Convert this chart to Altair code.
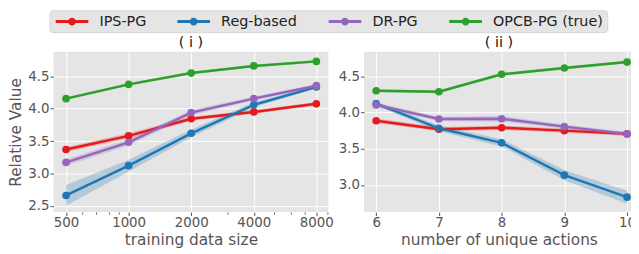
import altair as alt
import pandas as pd

methods = ["IPS-PG", "Reg-based", "DR-PG", "OPCB-PG (true)"]
colors = ["#e41a1c", "#1f77b4", "#9467bd", "#2ca02c"]

# Panel (i): training data size
sizes = [500, 1000, 2000, 4000, 8000]
i_ips = [3.37, 3.58, 3.845, 3.95, 4.075]
i_reg = [2.66, 3.12, 3.62, 4.06, 4.335]
i_dr = [3.17, 3.48, 3.94, 4.155, 4.355]
i_opcb = [4.155, 4.375, 4.55, 4.66, 4.73]
i_ips_ci = [0.04, 0.04, 0.03, 0.03, 0.03]
i_reg_ci = [0.16, 0.09, 0.06, 0.04, 0.02]
i_dr_ci = [0.05, 0.05, 0.04, 0.03, 0.02]
i_opcb_ci = [0.02, 0.02, 0.02, 0.02, 0.02]

# Panel (ii): number of unique actions
actions = [6, 7, 8, 9, 10]
ii_ips = [3.886, 3.77, 3.79, 3.75, 3.705]
ii_reg = [4.123, 3.782, 3.582, 3.136, 2.832]
ii_dr = [4.105, 3.91, 3.914, 3.805, 3.705]
ii_opcb = [4.30, 4.286, 4.527, 4.614, 4.695]
ii_ips_ci = [0.03, 0.03, 0.03, 0.03, 0.03]
ii_reg_ci = [0.03, 0.04, 0.05, 0.07, 0.09]
ii_dr_ci = [0.03, 0.03, 0.04, 0.03, 0.03]
ii_opcb_ci = [0.02, 0.02, 0.02, 0.02, 0.02]

minor_ticks = [600, 700, 800, 900, 3000, 5000, 6000, 7000, 9000]


def build(xs, series, cis):
    rows = []
    for m, vals, ci in zip(methods, series, cis):
        for x, v, c in zip(xs, vals, ci):
            rows.append({"x": x, "method": m, "value": v, "lo": v - c, "hi": v + c})
    return pd.DataFrame(rows)


df1 = build(sizes, [i_ips, i_reg, i_dr, i_opcb], [i_ips_ci, i_reg_ci, i_dr_ci, i_opcb_ci])
df2 = build(actions, [ii_ips, ii_reg, ii_dr, ii_opcb], [ii_ips_ci, ii_reg_ci, ii_dr_ci, ii_opcb_ci])

FONT = "DejaVu Sans"
GREY = "#555555"

legend_path = "M-1,-0.3H5.6V0.3H-1Z M3.1,0A0.8,0.8 0 1,1 1.5,0A0.8,0.8 0 1,1 3.1,0Z"

color = alt.Color(
    "method:N",
    scale=alt.Scale(domain=methods, range=colors),
    legend=alt.Legend(
        title=None,
        orient="none",
        direction="horizontal",
        columns=4,
        legendX=-4,
        legendY=-42,
        symbolType=legend_path,
        symbolSize=100,
        symbolStrokeWidth=0,
        symbolOpacity=1,
        labelOffset=32,
        columnPadding=29,
        labelFontSize=14.5,
        labelFont=FONT,
        labelColor="#222222",
        fillColor="#E5E5E5",
        strokeColor="#d6d6d6",
        cornerRadius=3,
        padding=4,
    ),
)


def panel(df, xscale, xaxis, ydomain, yvals, xtitle, ytitle, title, width):
    x = alt.X("x:Q", scale=xscale, axis=xaxis, title=xtitle)
    yscale = alt.Scale(domain=ydomain, nice=False, zero=False)
    yaxis = alt.Axis(values=yvals, format=".1f", title=ytitle)
    base = alt.Chart(df)
    band = base.mark_area(opacity=0.25).encode(
        x=x, y=alt.Y("lo:Q", scale=yscale, axis=yaxis), y2="hi:Q", color=color,
    )
    line = base.mark_line(strokeWidth=2.5).encode(
        x=x, y=alt.Y("value:Q", scale=yscale, axis=yaxis), color=color,
    )
    pts = base.mark_point(filled=True, size=60, opacity=1, strokeWidth=0).encode(
        x=x, y=alt.Y("value:Q", scale=yscale, axis=yaxis), color=color,
    )
    return alt.layer(band, line, pts).properties(
        width=width, height=162,
        title=alt.TitleParams(title, fontSize=14.5, font=FONT, fontWeight="normal", color="#111111", offset=1),
    )


all_ticks = sizes + minor_ticks
xaxis1 = alt.Axis(
    values=all_ticks,
    labelExpr="indexof([500,1000,2000,4000,8000], datum.value) >= 0 ? format(datum.value, 'd') : ''",
    tickSize=alt.expr("indexof([500,1000,2000,4000,8000], datum.value) >= 0 ? 3.5 : 2"),
    gridOpacity=alt.expr("indexof([500,1000,2000,4000,8000], datum.value) >= 0 ? 1 : 0"),
)
p1 = panel(
    df1,
    alt.Scale(type="log", base=2, domain=[435, 9142], nice=False),
    xaxis1,
    [2.404, 4.877],
    [2.5, 3.0, 3.5, 4.0, 4.5],
    "training data size",
    "Relative Value",
    "( i )",
    278,
)
p2 = panel(
    df2,
    alt.Scale(domain=[5.806, 10.11], nice=False, zero=False),
    alt.Axis(values=actions, format="d"),
    [2.627, 4.836],
    [3.0, 3.5, 4.0, 4.5],
    "number of unique actions",
    None,
    "( ii )",
    273,
)

chart = (
    alt.hconcat(p1, p2, spacing=5)
    .resolve_scale(y="independent", x="independent", color="shared")
    .properties(padding={"left": 1, "top": 0, "right": -5, "bottom": 0})
    .configure(font=FONT)
    .configure_view(fill="#E5E5E5", stroke=None)
    .configure_axis(
        grid=True,
        gridColor="white",
        gridWidth=1,
        domain=False,
        tickColor=GREY,
        tickWidth=1,
        labelColor=GREY,
        labelFont=FONT,
        labelFontSize=13.5,
        titleFont=FONT,
        titleFontSize=15.5,
        titleColor=GREY,
        titleFontWeight="normal",
        labelPadding=1,
        titlePadding=4,
    )
    .configure_axisX(tickSize=3.5, labelPadding=0)
    .configure_axisY(tickSize=3.5)
)

chart.save("out.html", embed_options={"renderer": "svg", "actions": False})
